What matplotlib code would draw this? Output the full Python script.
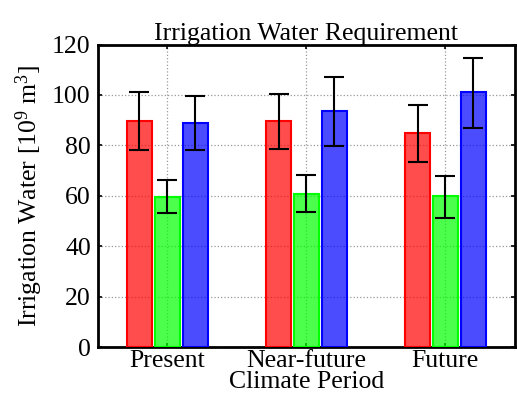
import numpy as np
import matplotlib
matplotlib.use("Agg")
import matplotlib.pyplot as plt

plt.rcParams['font.family'] = ['Liberation Serif', 'DejaVu Serif']
plt.rcParams['mathtext.fontset'] = 'custom'
plt.rcParams['mathtext.rm'] = 'Liberation Serif'
plt.rcParams['mathtext.it'] = 'Liberation Serif:italic'

periods = ["Present", "Near-future", "Future"]
# bar heights and error bar ends (lower, upper) per series
red_vals = [89.5, 89.5, 85.0]
red_lo = [78.0, 78.7, 73.6]
red_hi = [101.2, 100.5, 96.1]
green_vals = [59.7, 60.9, 59.9]
green_lo = [53.0, 53.6, 51.3]
green_hi = [66.1, 68.1, 67.8]
blue_vals = [89.0, 93.5, 101.0]
blue_lo = [78.0, 79.9, 86.9]
blue_hi = [99.6, 107.0, 114.7]

series = [
    (red_vals, red_lo, red_hi, (1, 0, 0)),
    (green_vals, green_lo, green_hi, (0, 1, 0)),
    (blue_vals, blue_lo, blue_hi, (0, 0, 1)),
]

fig = plt.figure(figsize=(5.17, 3.94), dpi=100)
ax = fig.add_axes([0.189, 0.119, 0.807, 0.768])

x = np.arange(1, len(periods) + 1)
w = 0.18
offsets = [-0.2, 0.0, 0.2]
for (vals, lo, hi, c), off in zip(series, offsets):
    vals = np.array(vals)
    ax.bar(x + off, vals, width=w, color=c, alpha=0.7, edgecolor='none', zorder=2)
    ax.bar(x + off, vals, width=w, facecolor='none', edgecolor=c, linewidth=1.5, zorder=3)
    yerr = [vals - np.array(lo), np.array(hi) - vals]
    ax.errorbar(x + off, vals, yerr=yerr, fmt='none', ecolor='black',
                elinewidth=1.5, capsize=7, capthick=1.5, zorder=4)

ax.set_xlim(0.5, 3.5)
ax.set_ylim(0, 120)
ax.set_xticks(x)
ax.set_xticklabels(periods)
ax.set_yticks(np.arange(0, 121, 20))
ax.grid(True, color='#999999', linestyle=':', linewidth=0.9, zorder=0)
ax.set_axisbelow(True)
ax.tick_params(direction='in', length=3, width=1.2, top=True, right=True, labelsize=18.5)
ax.tick_params(axis='x', pad=2)
ax.tick_params(axis='y', pad=5)
for s in ax.spines.values():
    s.set_linewidth(2)

ax.set_title("Irrigation Water Requirement", fontsize=18.5, pad=3)
ax.set_xlabel("Climate Period", fontsize=18.5, labelpad=-1)
ax.set_ylabel("Irrigation Water [10$^9$ m$^3$]", fontsize=18.5, labelpad=5)

fig.savefig("out.png", dpi=100)
